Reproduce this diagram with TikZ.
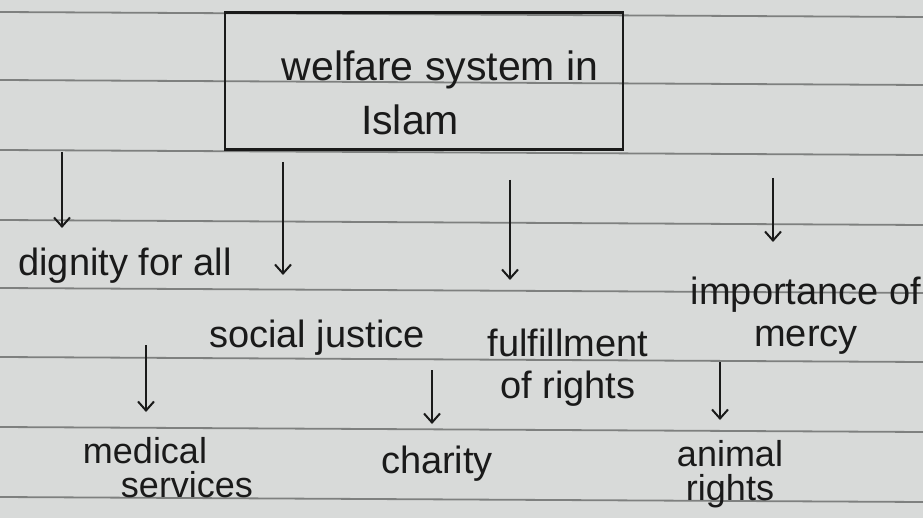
\documentclass[tikz,border=0pt]{standalone}
\usepackage{fontspec}
\setmainfont{Liberation Sans}
\usetikzlibrary{arrows.meta}
\definecolor{paper}{HTML}{D8DAD9}
\definecolor{rule}{HTML}{7E807F}
\definecolor{ink}{HTML}{1A1A1A}
\tikzset{
  lbl/.style={text=ink, inner sep=0pt, align=center, font=\fontsize{38}{44}\selectfont},
  arr/.style={draw=ink, line width=2pt, -{Straight Barb[length=9pt,width=16pt,line width=2pt]}},
  ruling/.style={draw=rule, line width=1.8pt}
}
\begin{document}
\begin{tikzpicture}[x=1pt,y=-1pt]
\fill[paper] (0,0) rectangle (923,518);
\useasboundingbox (0,0) rectangle (923,518);
% paper rulings
\foreach \yy in {12,80,150,220,288,357,427,497} {
  \draw[ruling] (0,\yy) -- (923,\yy+5);
}
% title box
\node[draw=ink, line width=2.2pt, minimum width=398pt, minimum height=137pt, inner sep=0pt] (box) at (424,81) {};
\node[lbl, font=\fontsize{41}{44}\selectfont] (t1) at (440,70) {welfare system in};
\node[lbl, font=\fontsize{41}{44}\selectfont] (t2) at (410,120) {Islam};
% level 1 labels
\node[lbl] (dig) at (125,266) {dignity for all};
\node[lbl] (soc) at (317,338) {social justice};
\node[lbl, font=\fontsize{38}{42}\selectfont] (ful) at (568,368) {fulfillment\\of rights};
\node[lbl, font=\fontsize{38}{42}\selectfont] (imp) at (806,316) {importance of\\mercy};
% level 2 labels
\node[lbl, font=\fontsize{36}{34}\selectfont, align=left] (med) at (168,468) {medical\\\hspace{38pt}services};
\node[lbl] (cha) at (437,464) {charity};
\node[lbl, font=\fontsize{36}{34}\selectfont] (ani) at (730,474) {animal\\rights};
% arrow starts and ends
\coordinate (s1) at (62,152);
\coordinate (s2) at (283,162);
\coordinate (s3) at (510,180);
\coordinate (s4) at (773,178);
\coordinate (s5) at (146,345);
\coordinate (s6) at (432,370);
\coordinate (s7) at (720,362);
\coordinate (e1) at (62,228);
\coordinate (e2) at (283,275);
\coordinate (e3) at (510,280);
\coordinate (e4) at (773,242);
\coordinate (e5) at (146,412);
\coordinate (e6) at (432,424);
\coordinate (e7) at (720,420);
\draw[arr] (s1) -- (e1);
\draw[arr] (s2) -- (e2);
\draw[arr] (s3) -- (e3);
\draw[arr] (s4) -- (e4);
\draw[arr] (s5) -- (e5);
\draw[arr] (s6) -- (e6);
\draw[arr] (s7) -- (e7);
\end{tikzpicture}
\end{document}
